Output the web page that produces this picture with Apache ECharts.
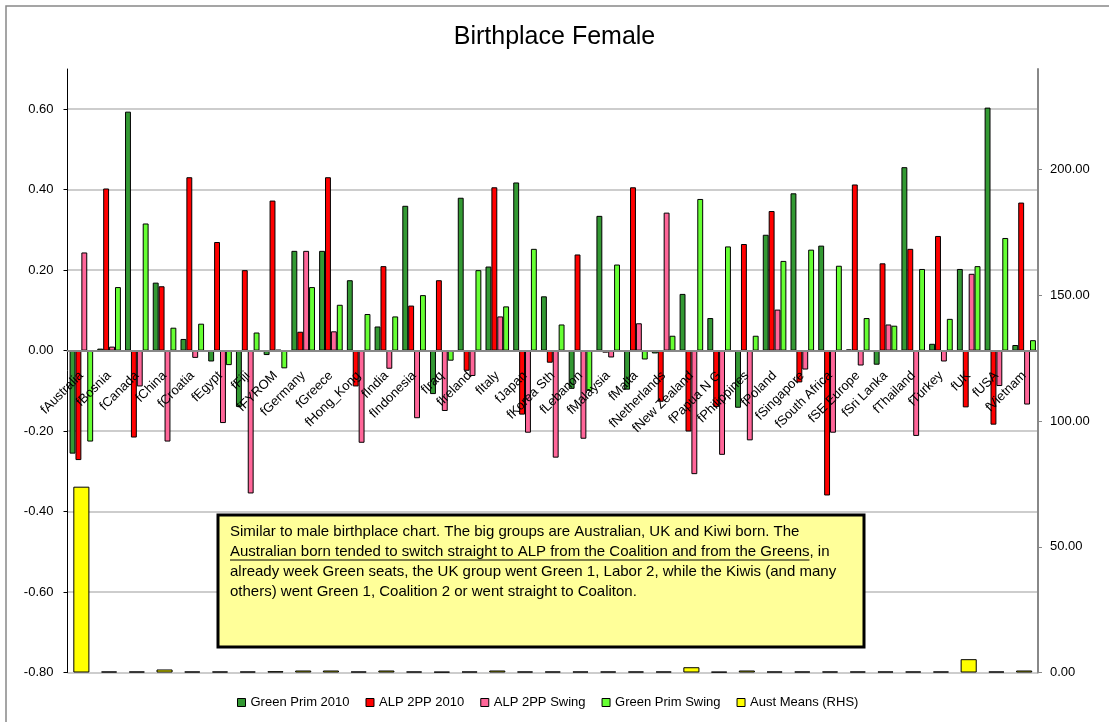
<!DOCTYPE html>
<html>
<head>
<meta charset="utf-8">
<title>Birthplace Female</title>
<script src="https://cdn.jsdelivr.net/npm/echarts@6/dist/echarts.min.js"></script>
<style>
  html, body { margin: 0; padding: 0; background: #fff; }
  #chart { width: 1109px; height: 722px; }
</style>
</head>
<body>
<div id="chart"></div>
<script>
const categories = [
  "fAustralia", "fBosnia", "fCanada", "fChina", "fCroatia", "fEgypt", "fFiji",
  "fFYROM", "fGermany", "fGreece", "fHong_Kong", "fIndia", "fIndonesia", "fIraq",
  "fIreland", "fItaly", "fJapan", "fKorea Sth", "fLebanon", "fMalaysia", "fMalta",
  "fNetherlands", "fNew Zealand", "fPapua N G", "fPhilippines", "fPoland",
  "fSingapore", "fSouth Africa", "fSE Europe", "fSri Lanka", "fThailand",
  "fTurkey", "fUK", "fUSA", "fVietnam"
];

const greenPrim2010 = [
  -0.256, 0.005, 0.594, 0.169, 0.029, -0.027, -0.14,
  -0.011, 0.248, 0.248, 0.175, 0.06, 0.36, -0.108,
  0.38, 0.209, 0.418, 0.135, -0.095, 0.335, -0.097,
  -0.007, 0.141, 0.081, -0.142, 0.288,
  0.391, 0.261, 0.003, -0.035, 0.456,
  0.017, 0.203, 0.604, 0.014
];

const alp2pp2010 = [
  -0.272, 0.403, -0.216, 0.16, 0.431, 0.27, 0.2,
  0.373, 0.047, 0.431, -0.089, 0.21, 0.112, 0.175,
  -0.05, 0.406, -0.159, -0.03, 0.239, -0.005, 0.406,
  -0.127, -0.201, -0.14, 0.265, 0.347,
  -0.079, -0.36, 0.413, 0.217, 0.253,
  0.285, -0.141, -0.184, 0.368
];

const alp2ppSwing = [
  0.244, 0.01, -0.089, -0.226, -0.018, -0.18, -0.355,
  0.002, 0.248, 0.048, -0.229, -0.045, -0.168, -0.15,
  -0.063, 0.085, -0.204, -0.266, -0.219, -0.017, 0.068,
  0.343, -0.307, -0.259, -0.223, 0.102,
  -0.047, -0.204, -0.037, 0.065, -0.212,
  -0.027, 0.191, -0.088, -0.134
];

const greenPrimSwing = [
  -0.226, 0.158, 0.316, 0.057, 0.067, -0.036, 0.045,
  -0.044, 0.158, 0.114, 0.091, 0.085, 0.138, -0.025,
  0.2, 0.11, 0.253, 0.065, -0.1, 0.214, -0.022,
  0.037, 0.377, 0.259, 0.037, 0.223,
  0.251, 0.211, 0.081, 0.062, 0.203,
  0.079, 0.21, 0.28, 0.026
];

// right hand axis
const austMeans = [
  73.9, 0.4, 0.4, 1.2, 0.4, 0.4, 0.4,
  0.5, 0.8, 0.8, 0.4, 0.8, 0.4, 0.3,
  0.4, 0.8, 0.4, 0.4, 0.4, 0.4, 0.4,
  0.4, 2.1, 0.3, 0.8, 0.4,
  0.4, 0.4, 0.4, 0.4, 0.4,
  0.4, 5.3, 0.4, 0.8
];

const leftMin = -0.8, leftMax = 0.7;

const noteLines = [
  "Similar to male birthplace chart. The big groups are Australian, UK and Kiwi born. The",
  "Australian born tended to switch straight to ALP from the Coalition and from the Greens, in",
  "already week Green seats, the UK group went Green 1, Labor 2, while the Kiwis (and many",
  "others) went Green 1, Coalition 2 or went straight to Coaliton."
];
const noteUnderlined = "Australian born tended to switch straight to ALP from the Coalition and from the Greens";

const FONT = '"Liberation Sans", Arial, sans-serif';
const NOTE_FONT = "15px " + FONT;

// width of the underlined part, so the rule sits under the right words
const measureCtx = document.createElement("canvas").getContext("2d");
measureCtx.font = NOTE_FONT;
const underlineW = measureCtx.measureText(noteUnderlined).width;

const W = 1109, H = 722;
const gridTop = 69, gridBottom = 49.5;
// category axis sits on the zero line of the left axis (onZero doesn't carry the labels here)
const plotH = H - gridTop - gridBottom;
const zeroShift = -plotH * (0 - leftMin) / (leftMax - leftMin);

const chart = echarts.init(document.getElementById("chart"), null, { renderer: "canvas" });

function barSeries(name, data, color) {
  return {
    name,
    type: "bar",
    data,
    barGap: "0%",
    barCategoryGap: "15%",
    itemStyle: { color, borderColor: "#000", borderWidth: 1 },
  };
}

const noteX = 218, noteY = 515;
const noteText = noteLines.map((t, i) => ({
  type: "text",
  z: 101,
  x: noteX + 12,
  y: noteY + 17 + i * 20,
  style: { text: t, font: NOTE_FONT, fill: "#000", verticalAlign: "middle" },
}));

chart.setOption({
  backgroundColor: "#fff",
  animation: false,
  textStyle: { fontFamily: FONT },
  title: {
    text: "Birthplace Female",
    left: "center",
    top: 20,
    textStyle: { fontSize: 25, fontWeight: "normal", color: "#000", fontFamily: FONT },
  },
  legend: {
    bottom: 8,
    left: 232,
    icon: "rect",
    itemWidth: 8,
    itemHeight: 8,
    itemGap: 16,
    itemStyle: { borderColor: "#000", borderWidth: 1 },
    textStyle: { fontSize: 13, color: "#000", fontFamily: FONT },
    data: ["Green Prim 2010", "ALP 2PP 2010", "ALP 2PP Swing", "Green Prim Swing", "Aust Means (RHS)"],
  },
  grid: {
    left: 67.5, right: 71, top: gridTop, bottom: gridBottom,
    containLabel: false, outerBoundsMode: "none",
  },
  xAxis: [
    {
      type: "category",
      data: categories,
      position: "bottom",
      offset: zeroShift,
      axisLine: { onZero: false, lineStyle: { color: "#888", width: 2 } },
      axisTick: { show: false },
      axisLabel: { interval: 0, rotate: 45, margin: 23, fontSize: 13, color: "#000", fontFamily: FONT },
      splitLine: { show: false },
      z: 5,
    },
    {
      type: "category",
      data: categories,
      position: "top",
      show: false,
    },
  ],
  yAxis: [
    {
      type: "value",
      min: leftMin,
      max: leftMax,
      interval: 0.2,
      axisLine: { show: true, onZero: false, lineStyle: { color: "#000", width: 1 } },
      axisTick: { show: true, length: 4, lineStyle: { color: "#000" } },
      axisLabel: {
        showMaxLabel: false,
        margin: 14,
        fontSize: 13,
        color: "#000",
        fontFamily: FONT,
        formatter: (v) => v.toFixed(2),
      },
      splitLine: { show: true, showMaxLine: false, lineStyle: { color: "#bdbdbd", width: 1.5 } },
    },
    {
      type: "value",
      min: 0,
      max: 240,
      interval: 50,
      position: "right",
      axisLine: { show: true, onZero: false, lineStyle: { color: "#888", width: 2 } },
      axisTick: { show: true, length: 4, lineStyle: { color: "#888" } },
      axisLabel: {
        showMaxLabel: false,
        margin: 12,
        fontSize: 13,
        color: "#000",
        fontFamily: FONT,
        formatter: (v) => v.toFixed(2),
      },
      splitLine: { show: false },
    },
  ],
  series: [
    barSeries("Green Prim 2010", greenPrim2010, "#339933"),
    barSeries("ALP 2PP 2010", alp2pp2010, "#ff0000"),
    barSeries("ALP 2PP Swing", alp2ppSwing, "#ff6699"),
    barSeries("Green Prim Swing", greenPrimSwing, "#66ff33"),
    {
      name: "Aust Means (RHS)",
      type: "bar",
      xAxisIndex: 1,
      yAxisIndex: 1,
      data: austMeans,
      barCategoryGap: "42%",
      itemStyle: { color: "#ffff00", borderColor: "#000", borderWidth: 1 },
    },
  ],
  graphic: [
    {
      type: "rect",
      z: 0,
      silent: true,
      shape: { x: 6, y: 6, width: 1130, height: 740 },
      style: { fill: "none", stroke: "#888", lineWidth: 1.5 },
    },
    {
      type: "rect",
      z: 100,
      shape: { x: noteX, y: noteY, width: 646, height: 132 },
      style: { fill: "#ffff99", stroke: "#000", lineWidth: 3 },
    },
    ...noteText,
    {
      type: "line",
      z: 101,
      shape: {
        x1: noteX + 12, y1: noteY + 45,
        x2: noteX + 12 + underlineW, y2: noteY + 45,
      },
      style: { stroke: "#000", lineWidth: 1 },
    },
  ],
});

window.addEventListener("resize", () => chart.resize());
</script>
</body>
</html>
